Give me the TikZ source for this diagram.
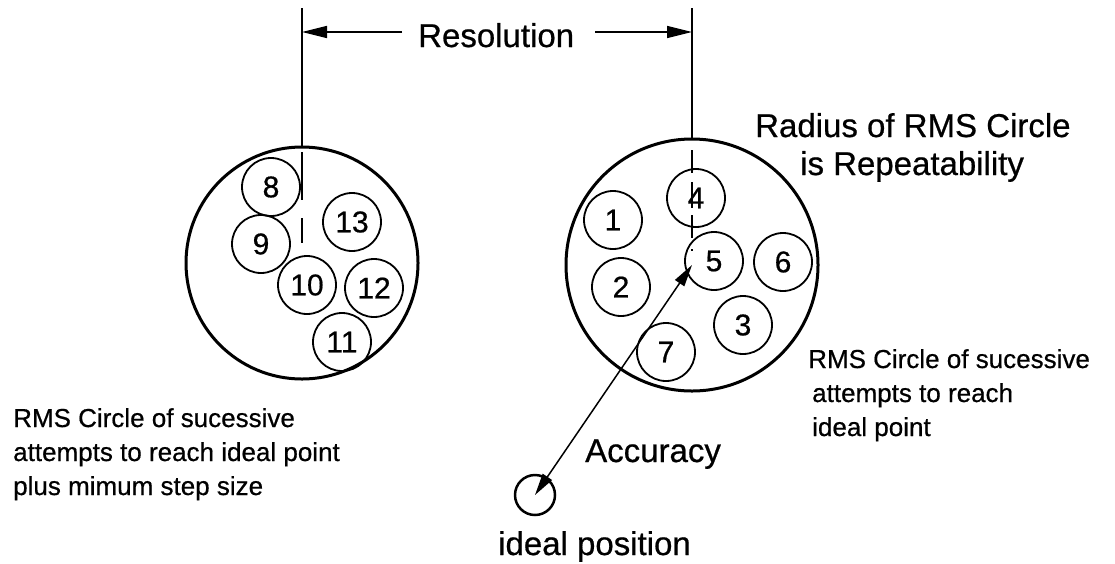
\documentclass[tikz,border=0pt]{standalone}
\usepackage{fontspec}
\setmainfont{Liberation Sans}[FakeBold=0.6]
\usetikzlibrary{arrows.meta}
\begin{document}
\begin{tikzpicture}[x=1pt,y=-1pt,
  big/.style={circle,draw,line width=3pt,inner sep=0pt},
  sm/.style={circle,draw,line width=1.8pt,minimum size=58pt,inner sep=0pt,font=\fontsize{30}{30}\selectfont},
  lbl/.style={anchor=base west,inner sep=0pt,font=\fontsize{33}{40}\selectfont},
  note/.style={anchor=base west,inner sep=0pt,font=\fontsize{26}{32}\selectfont},
  dim/.style={line width=1.5pt},
  tipr/.style={-{Triangle[length=25pt,width=12pt]}},
  acc/.style={line width=1.5pt,{Triangle[length=22pt,width=11pt]}-{Triangle[length=22pt,width=11pt]}}]
\useasboundingbox (0,0) rectangle (1115,563);

% big RMS circles
\node[big,minimum size=232pt] (L) at (302,263) {};
\node[big,minimum size=252pt] (R) at (692,265) {};

% small circles, left
\node[sm] (c8) at (271,187) {8};
\node[sm] (c9) at (261,244) {9};
\node[sm] (c13) at (352,222) {13};
\node[sm] (c10) at (307,285) {10};
\node[sm] (c12) at (374,288) {12};
\node[sm] (c11) at (342,342) {11};

% small circles, right
\node[sm] (c1) at (613,220) {1};
\node[sm] (c4) at (696,198) {4};
\node[sm] (c5) at (714,261) {5};
\node[sm] (c6) at (783,262) {6};
\node[sm] (c2) at (621,287) {2};
\node[sm] (c3) at (743,325) {3};
\node[sm] (c7) at (666,352) {7};

% ideal position
\node[circle,draw,line width=2.5pt,minimum size=40pt,inner sep=0pt] (ideal) at (535,495) {};

% extension lines
\coordinate (lt) at (302,8);
\coordinate (rt) at (692,8);
\draw[dim] (lt) -- (L.north);
\draw[dim] (rt) -- (R.north);
\draw[dim] (302,152) -- (302,200) (302,218) -- (302,243);
\draw[dim] (692,150) -- (692,173) (692,182) -- (692,208) (692,215) -- (692,238) (692,249) -- (692,251);

% resolution dimension
\node[lbl] (res) at (418,47) {Resolution};
\coordinate (la) at (302,32);
\coordinate (ra) at (692,32);
\draw[dim,tipr] (402,32) -- (la);
\draw[dim,tipr] (595,32) -- (ra);

% accuracy
\draw[acc] (ideal.center) -- (R.center);
\node[lbl] (accl) at (585,462) {Accuracy};
\node[lbl] (idl) at (498,555) {ideal position};

% repeatability
\node[lbl] (rad1) at (755,137) {Radius of RMS Circle};
\node[lbl] (rad2) at (800,175) {is Repeatability};

% notes
\node[note] (n1) at (13,427) {RMS Circle of sucessive};
\node[note] (n2) at (13,461) {attempts to reach ideal point};
\node[note] (n3) at (13,495) {plus mimum step size};
\node[note] (m1) at (808,368) {RMS Circle of sucessive};
\node[note] (m2) at (812,402) {attempts to reach};
\node[note] (m3) at (812,436) {ideal point};
\end{tikzpicture}
\end{document}
